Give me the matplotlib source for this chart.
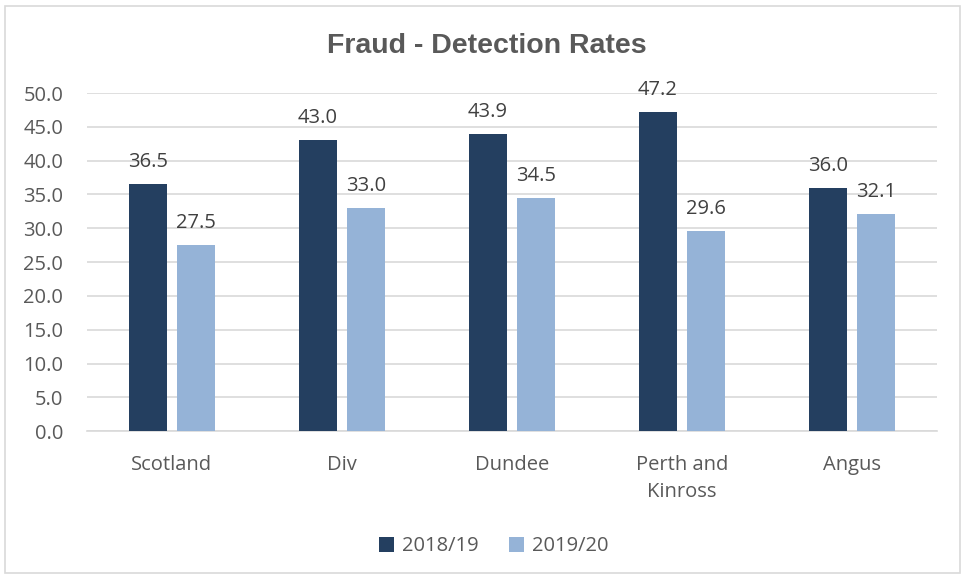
import matplotlib
matplotlib.use("Agg")
import matplotlib.pyplot as plt
import numpy as np
from matplotlib.patches import Rectangle

# detection rates by area
areas = ["Scotland", "Div", "Dundee", "Perth and\nKinross", "Angus"]
rate_1819 = [36.5, 43.0, 43.9, 47.2, 36.0]
rate_1920 = [27.5, 33.0, 34.5, 29.6, 32.1]
series_names = ["2018/19", "2019/20"]
colors = ["#243F60", "#95B3D7"]

txt = "#595959"
fnt = "Open Sans"
fs = 14.5
fig = plt.figure(figsize=(9.65, 5.78), dpi=100)
ax = fig.add_axes([0.090, 0.254, 0.881, 0.585])

x = np.arange(len(areas))
w = 0.224
off = 0.141
b1 = ax.bar(x - off, rate_1819, w, color=colors[0], label=series_names[0], zorder=3)
b2 = ax.bar(x + off, rate_1920, w, color=colors[1], label=series_names[1], zorder=3)

for bars, vals in ((b1, rate_1819), (b2, rate_1920)):
    for bar, v in zip(bars, vals):
        ax.text(bar.get_x() + bar.get_width() / 2, v + 2.5, f"{v:.1f}",
                ha="center", va="baseline", fontsize=fs, color="#404040",
                family=fnt)

ax.set_xlim(-0.5, len(areas) - 0.5)
ax.set_ylim(0, 50)
ax.set_yticks(np.arange(0, 50.1, 5))
ax.set_yticklabels([f"{t:.1f}" for t in np.arange(0, 50.1, 5)],
                   fontsize=fs, color=txt, family=fnt)
ax.set_xticks(x)
ax.set_xticklabels(areas, fontsize=fs, color=txt, family=fnt,
                   linespacing=1.5, va="top")
ax.tick_params(axis="both", length=0)
ax.tick_params(axis="x", pad=17)
ax.tick_params(axis="y", pad=17)
ax.grid(axis="y", color="#D9D9D9", linewidth=1.2, zorder=0)
for s in ["top", "right", "left"]:
    ax.spines[s].set_visible(False)
ax.spines["bottom"].set_color("#D9D9D9")
ax.spines["bottom"].set_linewidth(1.2)

fig.text(0.504, 0.920, "Fraud - Detection Rates", ha="center", va="center",
         fontsize=20.5, fontweight="bold", color=txt, family="Liberation Sans")

leg = fig.legend(loc="center", bbox_to_anchor=(0.512, 0.055), ncol=2,
                 frameon=False, prop={"family": fnt, "size": fs},
                 handlelength=0.75, handleheight=0.75, columnspacing=1.5,
                 handletextpad=0.4)
for t in leg.get_texts():
    t.set_color(txt)

fig.patches.append(Rectangle((0.005, 0.009), 0.990, 0.981, transform=fig.transFigure,
                             fill=False, edgecolor="#D9D9D9", linewidth=1.2))

fig.savefig("out.png", dpi=100)
